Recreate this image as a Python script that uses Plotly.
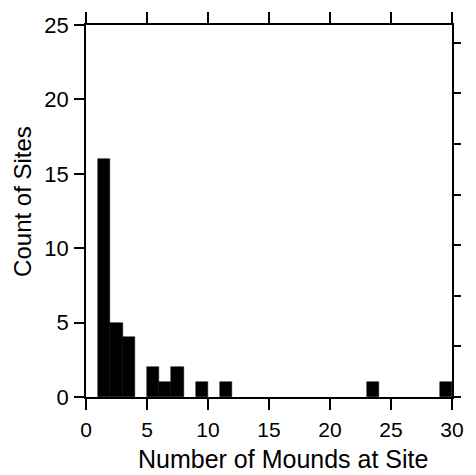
import plotly.graph_objects as go

# Histogram of mound counts per site (bins of width 1)
bin_start = [1, 2, 3, 5, 6, 7, 9, 11, 23, 29]
site_counts = [16, 5, 4, 2, 1, 2, 1, 1, 1, 1]
x_ticks = [0, 5, 10, 15, 20, 25, 30]
y_ticks = [0, 5, 10, 15, 20, 25]

total_sites = sum(site_counts)
y_max = 25
pct_max = y_max / total_sites * 100

font = dict(family="Liberation Sans, Arial, sans-serif", color="black")

fig = go.Figure()
fig.add_trace(go.Bar(
    x=[b + 0.5 for b in bin_start],
    y=site_counts,
    width=1,
    marker=dict(color="black", line=dict(color="black", width=0.5)),
    showlegend=False,
    hoverinfo="x+y",
))
# percent scale on the right side
fig.add_trace(go.Scatter(
    x=[0], y=[0], yaxis="y2", mode="markers",
    marker=dict(opacity=0), showlegend=False, hoverinfo="skip",
))

fig.update_layout(
    width=476, height=475,
    margin=dict(l=86, r=17, t=20, b=78),
    paper_bgcolor="white", plot_bgcolor="white",
    bargap=0,
    font=font,
    xaxis=dict(
        range=[0, 30], tickvals=x_ticks, ticktext=[str(v) for v in x_ticks],
        ticks="outside", ticklen=11, tickwidth=1.5, tickcolor="black",
        showline=True, linecolor="black", linewidth=1.5, mirror="ticks",
        showgrid=False, zeroline=False,
        tickfont=dict(size=21), ticklabelstandoff=2,
    ),
    yaxis=dict(
        range=[0, y_max], tickvals=y_ticks, ticktext=[str(v) for v in y_ticks],
        ticks="outside", ticklen=10, tickwidth=1.5, tickcolor="black",
        showline=True, linecolor="black", linewidth=1.5,
        showgrid=False, zeroline=False,
        tickfont=dict(size=22), ticklabelstandoff=1,
    ),
    yaxis2=dict(
        overlaying="y", side="right", range=[0, pct_max], dtick=10,
        ticks="outside", ticklen=7, tickwidth=1.5, tickcolor="black",
        showline=True, linecolor="black", linewidth=1.5,
        showticklabels=False, showgrid=False, zeroline=False,
    ),
    annotations=[
        dict(text="Number of Mounds at Site", xref="paper", yref="paper",
             x=0.5375, y=-0.168, xanchor="center", yanchor="middle",
             showarrow=False, font=dict(size=25)),
        dict(text="Count of Sites", xref="paper", yref="paper",
             x=-0.1716, y=0.525, xanchor="center", yanchor="middle",
             textangle=-90, showarrow=False, font=dict(size=24)),
    ],
)

fig.write_html("out.html")
